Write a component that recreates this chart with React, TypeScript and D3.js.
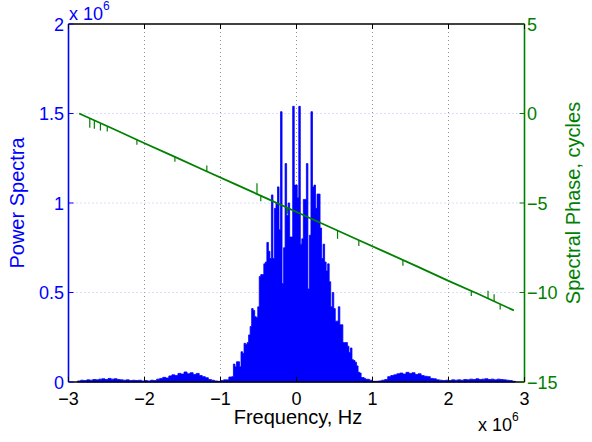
import React from 'react';
import * as d3 from 'd3';

const W = 592;
const H = 442;
const PL = 68.5, PR = 524.5, PT = 24, PB = 382;

// axis ticks
const xTicks = [-3, -2, -1, 0, 1, 2, 3];
const xGrid = [-2, -1, 0, 1, 2];
const leftTicks = [0, 0.5, 1, 1.5, 2];
const leftTickLabels = ['0', '0.5', '1', '1.5', '2'];
const leftGrid = [0.5, 1, 1.5];
const rightTicks = [5, 0, -5, -10, -15];

// Power spectrum (units of 1e6)
const leftTailStart = -2.86;
const tailStep = 0.04;
const leftTail = [
  0.006, 0.010, 0.008, 0.012, 0.010, 0.014, 0.012, 0.016, 0.018, 0.014,
  0.020, 0.016, 0.018, 0.014, 0.012, 0.010, 0.012, 0.008, 0.010, 0.008,
  0.010, 0.006, 0.008, 0.006, 0.010, 0.008, 0.016, 0.020, 0.026, 0.022,
  0.034, 0.040, 0.036, 0.048, 0.044, 0.056, 0.046, 0.052, 0.042, 0.048,
  0.036, 0.030, 0.024, 0.014, 0.010, 0.006, 0.004, 0.008, 0.012,
];
const centerStart = -0.9;
const centerStep = 0.02;
const center = [
  0.012, 0.028, 0.028, 0.03, 0.10, 0.085, 0.113, 0.113, 0.085, 0.169,
  0.16, 0.216, 0.21, 0.22, 0.263, 0.31, 0.41, 0.40, 0.365, 0.36,
  0.42, 0.59, 0.60, 0.60, 0.66, 0.67, 0.78, 0.73, 0.69, 1.045,
  0.69, 0.97, 1.0, 1.09, 0.85, 1.51, 0.55, 0.75, 1.22, 0.93,
  1.0, 0.81, 0.81, 1.54, 1.1, 1.1, 1.03, 1.54, 0.77, 0.80,
  1.02, 1.02, 1.22, 0.52, 0.82, 1.51, 1.09, 1.10, 0.97, 1.05,
  1.05, 0.86, 0.69, 0.77, 0.67, 0.62, 0.66, 0.56, 0.42, 0.50,
  0.41, 0.34, 0.34, 0.42, 0.32, 0.32, 0.22, 0.22, 0.22, 0.2,
  0.165, 0.19, 0.125, 0.12, 0.11, 0.09, 0.055, 0.05, 0.025, 0.025,
  0.02,
];
const rightTailStart = 0.94;
const rightTail = [
  0.015, 0.010, 0.004, 0.004, 0.006, 0.010, 0.014, 0.030, 0.036, 0.040,
  0.046, 0.050, 0.044, 0.054, 0.048, 0.052, 0.042, 0.046, 0.036, 0.032,
  0.030, 0.020, 0.018, 0.012, 0.010, 0.008, 0.010, 0.008, 0.012, 0.010,
  0.012, 0.010, 0.014, 0.012, 0.016, 0.014, 0.018, 0.014, 0.016, 0.018,
  0.014, 0.016, 0.012, 0.016, 0.014, 0.012, 0.010, 0.008, 0.004,
];

// Spectral phase (cycles)
const phaseFreq = [-2.86, -2.4, -2.0, -1.6, -1.2, -0.8, -0.4, 0, 0.4, 0.8, 1.2, 1.6, 2.0, 2.4, 2.86];
const phaseVal = [0.0, -0.88, -1.66, -2.42, -3.2, -3.96, -4.73, -5.5, -6.27, -7.04, -7.8, -8.57, -9.35, -10.1, -11.0];
// glitches on the phase trace: frequency, base value, spike value
const glitchFreq = [-2.72, -2.66, -2.58, -2.49, -2.1, -1.6, -1.18, -0.52, -0.47, -0.12, 0.54, 0.82, 1.4, 2.3, 2.52, 2.6, 2.68];
const glitchBase = [-0.27, -0.38, -0.54, -0.71, -1.46, -2.42, -3.23, -4.5, -4.6, -5.27, -6.54, -7.08, -8.2, -9.92, -10.35, -10.5, -10.65];
const glitchPeak = [-0.8, -0.85, -0.95, -1.0, -1.75, -2.7, -2.9, -3.9, -4.9, -5.6, -7.0, -7.4, -8.5, -10.2, -9.9, -10.1, -10.95];

const FONT = "'Liberation Sans', Arial, Helvetica, sans-serif";
const BLUE = '#0000ff';
const GREEN = '#008000';

export default function App() {
  const x = d3.scaleLinear().domain([-3, 3]).range([PL, PR]);
  const yL = d3.scaleLinear().domain([0, 2]).range([PB, PT]);
  const yR = d3.scaleLinear().domain([-15, 5]).range([PB, PT]);

  const samples: { f: number; v: number; s: number }[] = [];
  leftTail.forEach((v, i) => samples.push({ f: leftTailStart + i * tailStep, v, s: tailStep }));
  center.forEach((v, i) => samples.push({ f: centerStart + i * centerStep, v, s: centerStep }));
  rightTail.forEach((v, i) => samples.push({ f: rightTailStart + i * tailStep, v, s: tailStep }));

  // stepped filled outline of the spectrum
  const p = d3.path();
  samples.forEach((d, i) => {
    const x0 = x(d.f - d.s / 2);
    const x1 = x(d.f + d.s / 2);
    if (i === 0) p.moveTo(x0, yL(0));
    p.lineTo(x0, yL(d.v));
    p.lineTo(x1, yL(d.v));
    if (i === samples.length - 1) p.lineTo(x1, yL(0));
  });
  p.closePath();

  const phasePts = phaseFreq.map((f, i) => [f, phaseVal[i]] as [number, number]);
  const phaseLine = d3.line<[number, number]>().x(d => x(d[0])).y(d => yR(d[1]));

  return (
    <svg width={W} height={H} style={{ position: 'absolute', left: 0, top: 0, background: '#fff' }} fontFamily={FONT}>
      <rect x={0} y={0} width={W} height={H} fill="#fff" />
      {/* grid */}
      {xGrid.map(t => (
        <line key={'gx' + t} x1={x(t)} x2={x(t)} y1={PT} y2={PB} stroke="#909090" strokeWidth={1} strokeDasharray="1,3" />
      ))}
      {leftGrid.map(t => (
        <line key={'gy' + t} x1={PL} x2={PR} y1={yL(t)} y2={yL(t)} stroke="#b8b8ff" strokeWidth={1} strokeDasharray="1,3" />
      ))}
      {/* spectrum */}
      <path d={p.toString()} fill={BLUE} stroke={BLUE} strokeWidth={0.8} strokeLinejoin="miter" />
      {/* phase */}
      <path d={phaseLine(phasePts) || ''} fill="none" stroke={GREEN} strokeWidth={1.8} />
      {glitchFreq.map((f, i) => (
        <line key={'gl' + i} x1={x(f)} x2={x(f)} y1={yR(glitchBase[i])} y2={yR(glitchPeak[i])} stroke={GREEN} strokeWidth={1.2} />
      ))}
      {/* box */}
      <line x1={PL} x2={PR} y1={PT} y2={PT} stroke="#000" strokeWidth={1.3} />
      <line x1={PL} x2={PR} y1={PB} y2={PB} stroke="#000" strokeWidth={1.3} />
      <line x1={PL} x2={PL} y1={PT} y2={PB} stroke={BLUE} strokeWidth={1.6} />
      <line x1={PR} x2={PR} y1={PT} y2={PB} stroke={GREEN} strokeWidth={1.6} />
      {/* x ticks */}
      {xTicks.map(t => (
        <g key={'xt' + t}>
          <line x1={x(t)} x2={x(t)} y1={PB} y2={PB - 5} stroke="#000" />
          <line x1={x(t)} x2={x(t)} y1={PT} y2={PT + 5} stroke="#000" />
          <text x={x(t)} y={405} fontSize={18} textAnchor="middle" fill="#000">
            {t < 0 ? '\u2212' + Math.abs(t) : String(t)}
          </text>
        </g>
      ))}
      {/* left ticks */}
      {leftTicks.map((t, i) => (
        <g key={'lt' + t}>
          <line x1={PL} x2={PL + 5} y1={yL(t)} y2={yL(t)} stroke={BLUE} />
          <text x={64} y={yL(t) + 6.5} fontSize={18} textAnchor="end" fill={BLUE}>{leftTickLabels[i]}</text>
        </g>
      ))}
      {/* right ticks */}
      {rightTicks.map(t => (
        <g key={'rt' + t}>
          <line x1={PR} x2={PR - 5} y1={yR(t)} y2={yR(t)} stroke={GREEN} />
          <text x={527} y={yR(t) + 6.5} fontSize={18} textAnchor="start" fill={GREEN}>
            {t < 0 ? '\u2212' + Math.abs(t) : String(t)}
          </text>
        </g>
      ))}
      {/* exponent labels */}
      <text x={69} y={20} fontSize={18} fill={BLUE}>
        x 10<tspan dy={-10} fontSize={12}>6</tspan>
      </text>
      <text x={478} y={431} fontSize={18} fill="#000">
        x 10<tspan dy={-10} fontSize={12}>6</tspan>
      </text>
      {/* axis labels */}
      <text x={298} y={424} fontSize={20} textAnchor="middle" fill="#000">Frequency, Hz</text>
      <text transform={`translate(24,${(PT + PB) / 2}) rotate(-90)`} fontSize={20} textAnchor="middle" fill={BLUE}>Power Spectra</text>
      <text transform={`translate(580,${(PT + PB) / 2}) rotate(-90)`} fontSize={20} textAnchor="middle" fill={GREEN}>Spectral Phase, cycles</text>
    </svg>
  );
}
